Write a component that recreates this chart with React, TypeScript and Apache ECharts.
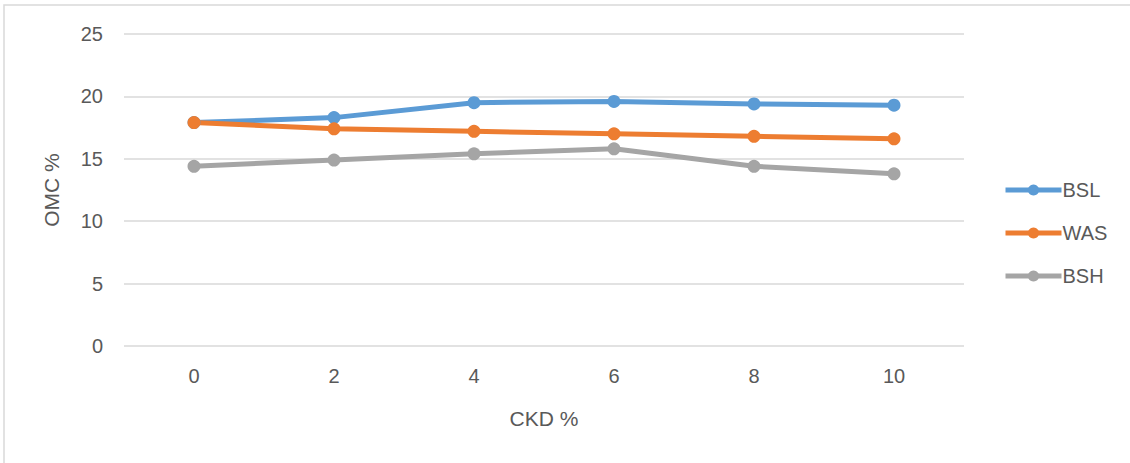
import React, { useEffect, useRef } from "react";
import * as echarts from "echarts";

const categories = ["0", "2", "4", "6", "8", "10"];
const bsl = [17.9, 18.3, 19.5, 19.6, 19.4, 19.3];
const was = [17.9, 17.4, 17.2, 17.0, 16.8, 16.6];
const bsh = [14.4, 14.9, 15.4, 15.8, 14.4, 13.8];

const FONT = "'Liberation Sans', Arial, sans-serif";
const TEXT = "#595959";

export default function App() {
  const ref = useRef<HTMLDivElement>(null);

  useEffect(() => {
    if (!ref.current) return;
    const chart = echarts.init(ref.current, undefined, { renderer: "svg" });
    const mk = (name: string, data: number[], color: string) => ({
      name,
      type: "line",
      data,
      symbol: "circle",
      symbolSize: 13,
      itemStyle: { color },
      lineStyle: { color, width: 5 },
      emphasis: { disabled: true },
    });
    chart.setOption({
      animation: false,
      textStyle: { fontFamily: FONT },
      grid: { left: 124, right: 166, top: 34, bottom: 117 },
      graphic: [
        {
          type: "rect",
          shape: { x: 4, y: 5, width: 1140, height: 470 },
          style: { fill: "none", stroke: "#d9d9d9", lineWidth: 1.5 },
          silent: true,
        },
      ],
      legend: {
        orient: "vertical",
        left: 1003,
        top: 180,
        padding: 0,
        itemWidth: 56,
        itemHeight: 14,
        itemGap: 23,
        itemStyle: { borderWidth: 0 },
        lineStyle: { width: 5 },
        textStyle: { color: TEXT, fontSize: 20, fontFamily: FONT, padding: [0, 0, 0, -4] },
        data: ["BSL", "WAS", "BSH"],
      },
      xAxis: {
        type: "category",
        data: categories,
        boundaryGap: true,
        axisLine: { show: false },
        axisTick: { show: false },
        axisLabel: { color: TEXT, fontSize: 20, margin: 20 },
        name: "CKD %",
        nameLocation: "middle",
        nameGap: 62,
        nameTextStyle: { color: TEXT, fontSize: 21 },
      },
      yAxis: {
        type: "value",
        min: 0,
        max: 25,
        interval: 5,
        axisLine: { show: false },
        axisTick: { show: false },
        axisLabel: { color: TEXT, fontSize: 20, margin: 21 },
        splitLine: { lineStyle: { color: "#d9d9d9", width: 1.5 } },
        name: "OMC %",
        nameLocation: "middle",
        nameGap: 62,
        nameTextStyle: { color: TEXT, fontSize: 21 },
      },
      series: [
        mk("BSL", bsl, "#5B9BD5"),
        mk("WAS", was, "#ED7D31"),
        mk("BSH", bsh, "#A5A5A5"),
      ],
    });
    return () => chart.dispose();
  }, []);

  return (
    <div
      ref={ref}
      style={{ position: "absolute", left: 0, top: 0, width: 1130, height: 463, background: "#fff" }}
    />
  );
}
